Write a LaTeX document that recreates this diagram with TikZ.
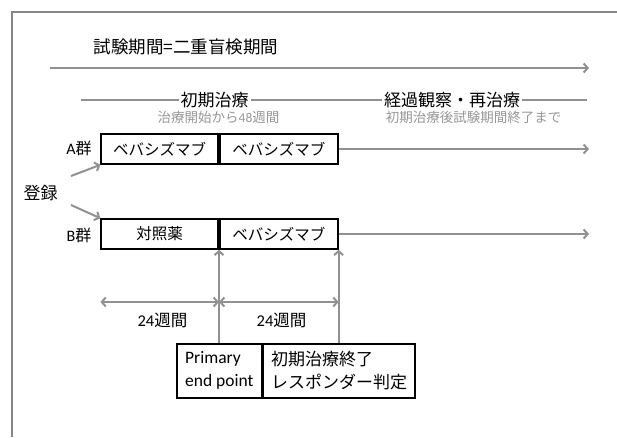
\documentclass[tikz,border=0pt]{standalone}
\usepackage{fontspec}
\setmainfont{Carlito}
\newfontfamily\jp{Noto Sans CJK JP}
\usetikzlibrary{arrows.meta}
\definecolor{lgray}{RGB}{145,145,145}
\definecolor{tgray}{RGB}{150,150,150}
\definecolor{fgray}{RGB}{135,135,135}
\tikzset{
  garrow/.style={draw=lgray, line width=2pt, -{Straight Barb[length=4pt,width=9pt]}},
  gdarrow/.style={draw=lgray, line width=2pt, {Straight Barb[length=4pt,width=9pt]}-{Straight Barb[length=4pt,width=9pt]}},
  gline/.style={draw=lgray, line width=2pt},
  box/.style={draw=black, line width=1.6pt, minimum height=30pt, inner sep=0pt, font={\jp\fontsize{15.5}{18}\selectfont}},
  bbox/.style={draw=black, line width=1.6pt, minimum height=54pt, inner sep=4pt, align=left, anchor=north west},
  head/.style={fill=white, inner sep=2pt, font={\jp\fontsize{17}{20}\selectfont}},
  sub/.style={text=tgray, inner sep=0pt, font={\jp\fontsize{13.5}{16}\selectfont}},
  lab/.style={inner sep=0pt, font={\jp\fontsize{16}{19}\selectfont}}
}
\begin{document}
\begin{tikzpicture}[x=1pt,y=-1pt]
\useasboundingbox (0,0) rectangle (617,437);
% frame
\coordinate (fbl) at (12,437);
\coordinate (ftl) at (12,12);
\coordinate (ftr) at (617,12);
\draw[fgray, line width=1.2pt] (fbl) -- (ftl) -- (ftr);
% title and top arrow
\node[lab, font={\jp\fontsize{17.5}{20}\selectfont}] (title) at (186,47) {試験期間=二重盲検期間};
\coordinate (t0) at (50,68);
\coordinate (t1) at (589,68);
\draw[garrow] (t0) -- (t1);
% phase line
\coordinate (p0) at (81,100);
\coordinate (p1) at (587,100);
\draw[gline] (p0) -- (p1);
\node[head] (h1) at (214.5,100) {初期治療};
\node[head] (h2) at (452,100) {経過観察・再治療};
\node[sub] (s1) at (218.5,117) {治療開始から\rmfamily 48\jp 週間};
\node[sub] (s2) at (473.5,117) {初期治療後試験期間終了まで};
% A group
\node[box, minimum width=117pt, anchor=west] (a1) at (100.4,149) {ベバシズマブ};
\node[box, minimum width=118pt, anchor=west] (a2) at (a1.east) {ベバシズマブ};
\node[lab] (la) at (79,148) {\rmfamily A\jp 群};
\coordinate (ae) at (589,149);
\draw[garrow] (a2.east) -- (ae);
% B group
\node[box, minimum width=117pt, anchor=west] (b1) at (100.4,234) {対照薬};
\node[box, minimum width=118pt, anchor=west] (b2) at (b1.east) {ベバシズマブ};
\node[lab] (lb) at (79,235) {\rmfamily B\jp 群};
\coordinate (be) at (589,234);
\draw[garrow] (b2.east) -- (be);
% registration
\node[lab, font={\jp\fontsize{17}{20}\selectfont}] (reg) at (40.5,193) {登録};
\coordinate (ra0) at (71,176);
\coordinate (rb0) at (71,205);
\draw[garrow] (ra0) -- (a1.south west);
\draw[garrow] (rb0) -- (b1.north west);
% bottom boxes
\node[bbox, minimum width=85pt, font={\rmfamily\fontsize{17.5}{23}\selectfont}] (pe) at (176,343) {Primary\\end point};
\node[bbox, minimum width=151.6pt, font={\jp\fontsize{17}{23}\selectfont}] (ir) at (pe.north east) {初期治療終了\\レスポンダー判定};
% vertical arrows
\draw[garrow] (b1.south east |- pe.north) -- (b1.south east);
\draw[garrow] (b2.south east |- ir.north) -- (b2.south east);
% durations
\coordinate (dy) at (0,302);
\draw[gdarrow] (b1.south west |- dy) -- (b1.south east |- dy);
\draw[gdarrow] (b1.south east |- dy) -- (b2.south east |- dy);
\node[lab, font={\jp\fontsize{16.5}{19}\selectfont}] (w1) at (162.4,320) {\rmfamily 24\jp 週間};
\node[lab, font={\jp\fontsize{16.5}{19}\selectfont}] (w2) at (281.5,320) {\rmfamily 24\jp 週間};
\end{tikzpicture}
\end{document}
